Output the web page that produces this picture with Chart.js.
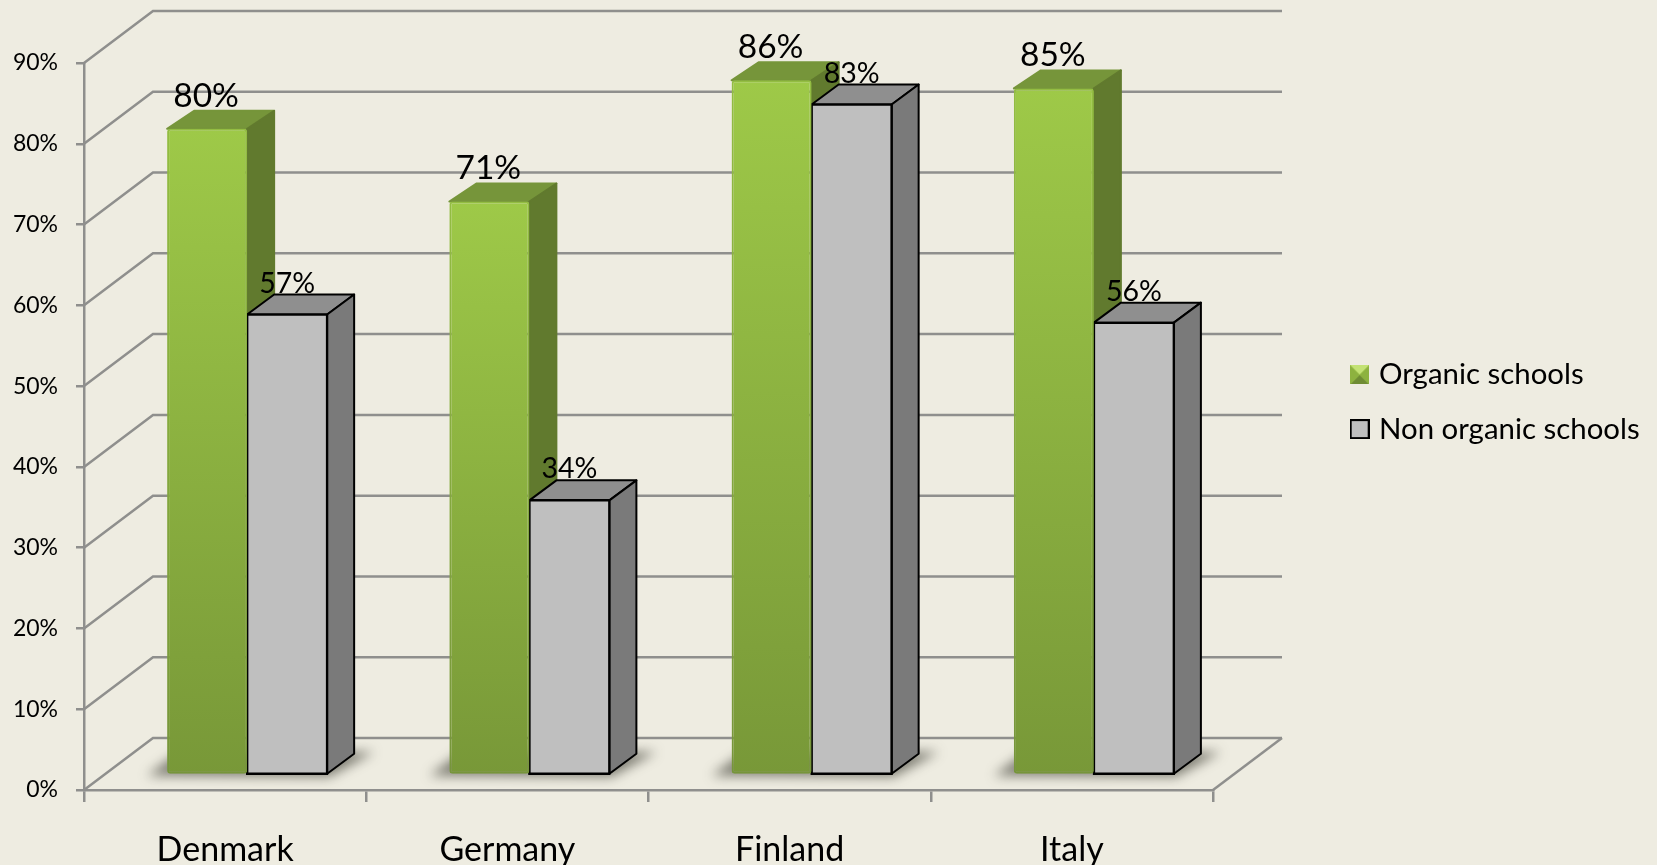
<!DOCTYPE html>
<html lang="en">

<head>
  <meta charset="UTF-8" />
  <title>Organic schools</title>
  <script src="https://cdn.jsdelivr.net/npm/chart.js"></script>
  <style>
    html, body { margin: 0; padding: 0; background: #eeece1; overflow: hidden; }
    canvas { display: block; }
  </style>
</head>

<body>
  <canvas id="grafico" width="1657" height="865"></canvas>

  <script>
    const paises = ['Denmark', 'Germany', 'Finland', 'Italy'];
    const organic = [80, 71, 86, 85];
    const nonOrganic = [57, 34, 83, 56];
    const nomes = ['Organic schools', 'Non organic schools'];

    const FONTE = 'Lato';
    const COR_GRADE = '#8f8f8d';

    // the wall/floor of the fake 3D box
    const FUNDO_X = 69, FUNDO_Y = 52;
    // bars stand a bit inside the floor
    const RECUO_X = 22, RECUO_Y = 15;
    const PROF_X = 27, PROF_Y = 20;

    function gradienteVerde(context, topo, fim) {
      const chart = context.chart;
      if (!chart.chartArea || context.raw === undefined) return topo;
      const y = chart.scales.y;
      const g = chart.ctx.createLinearGradient(0, y.getPixelForValue(context.raw), 0, y.getPixelForValue(0));
      g.addColorStop(0, topo);
      g.addColorStop(1, fim);
      return g;
    }

    const corVerde = context => gradienteVerde(context, '#9ec948', '#789838');
    const bordaVerde = context => gradienteVerde(context, '#93bd42', '#76953a');

    function iconeVerde() {
      const c = document.createElement('canvas');
      c.width = 19; c.height = 19;
      const x = c.getContext('2d');
      x.fillStyle = '#a4d04c'; x.fillRect(0, 0, 19, 19);
      x.fillStyle = '#c3e274';
      x.beginPath(); x.moveTo(0, 0); x.lineTo(19, 0); x.lineTo(9.5, 9.5); x.fill();
      x.fillStyle = '#6f8c34';
      x.beginPath(); x.moveTo(0, 19); x.lineTo(19, 19); x.lineTo(9.5, 9.5); x.fill();
      x.fillStyle = '#8db23f';
      x.beginPath(); x.moveTo(0, 0); x.lineTo(0, 19); x.lineTo(9.5, 9.5); x.fill();
      x.beginPath(); x.moveTo(19, 0); x.lineTo(19, 19); x.lineTo(9.5, 9.5); x.fill();
      return c;
    }

    function iconeCinza() {
      const c = document.createElement('canvas');
      c.width = 20; c.height = 20;
      const x = c.getContext('2d');
      x.fillStyle = '#bfbfbf'; x.fillRect(1, 1, 18, 18);
      x.strokeStyle = '#000'; x.lineWidth = 2; x.strokeRect(1, 1, 18, 18);
      return c;
    }

    const icones = [iconeVerde(), iconeCinza()];

    function face(ctx, pontos, cor, borda) {
      ctx.beginPath();
      pontos.forEach((p, i) => i ? ctx.lineTo(p[0], p[1]) : ctx.moveTo(p[0], p[1]));
      ctx.closePath();
      ctx.fillStyle = cor;
      ctx.fill();
      if (borda) {
        ctx.strokeStyle = borda;
        ctx.lineWidth = 2;
        ctx.lineJoin = 'round';
        ctx.stroke();
      }
    }

    // top and side faces of one series
    function lados(ctx, meta, verde) {
      meta.data.forEach(bar => {
        const esq = bar.x - bar.width / 2;
        const dir = bar.x + bar.width / 2;
        const dy = verde ? PROF_Y - 2 : PROF_Y;
        face(ctx, [[esq, bar.y], [esq + PROF_X, bar.y - dy], [dir + PROF_X, bar.y - dy], [dir, bar.y]],
          verde ? '#76953a' : '#8f8f8f', verde ? '#76953a' : '#000');
        face(ctx, [[dir, bar.y], [dir + PROF_X, bar.y - dy], [dir + PROF_X, bar.base - dy], [dir, bar.base]],
          verde ? '#617a2e' : '#7a7a7a', verde ? '#617a2e' : '#000');
      });
    }

    const caixa3d = {
      id: 'caixa3d',
      afterLayout(chart) {
        // legend does not take room from the chart, it sits right of the box
        const l = chart.legend;
        l.left = 1330; l.right = 1657;
        l.top = 335; l.bottom = 470;
      },
      beforeDatasetsDraw(chart) {
        const ctx = chart.ctx;
        const esc = chart.scales.y;
        const area = chart.chartArea;

        ctx.save();
        ctx.strokeStyle = COR_GRADE;
        ctx.lineWidth = 2.5;
        esc.ticks.forEach(t => {
          const y = esc.getPixelForValue(t.value);
          ctx.beginPath();
          ctx.moveTo(area.left, y);
          ctx.lineTo(area.left + FUNDO_X, y - FUNDO_Y);
          ctx.lineTo(area.right + FUNDO_X, y - FUNDO_Y);
          ctx.stroke();
        });
        const y0 = esc.getPixelForValue(0);
        ctx.beginPath();
        ctx.moveTo(area.right, y0);
        ctx.lineTo(area.right + FUNDO_X, y0 - FUNDO_Y);
        ctx.stroke();
        ctx.restore();

        ctx.save();
        ctx.translate(RECUO_X, -RECUO_Y);

        // soft shadow on the floor
        const m0 = chart.getDatasetMeta(0);
        const m1 = chart.getDatasetMeta(1);
        ctx.save();
        ctx.filter = 'blur(6px)';
        m0.data.forEach((bar, i) => {
          const esq = bar.x - bar.width / 2;
          const dir = m1.data[i].x + m1.data[i].width / 2;
          const base = bar.base;
          face(ctx, [[esq - 20, base + 2], [dir + 2, base + 3], [dir + PROF_X + 20, base - PROF_Y - 2], [esq + 10, base - PROF_Y]], 'rgba(50,50,40,0.6)');
        });
        ctx.restore();

        // green faces first, the grey front has to cover them
        lados(ctx, m0, true);
        lados(ctx, m1, false);
      },
      afterDatasetsDraw(chart) {
        const ctx = chart.ctx;
        ctx.fillStyle = '#000';
        ctx.textAlign = 'center';
        ctx.textBaseline = 'alphabetic';
        [0, 1].forEach(d => {
          const ds = chart.data.datasets[d];
          ctx.font = (d === 0 ? 33.5 : 28.5) + 'px ' + FONTE;
          chart.getDatasetMeta(d).data.forEach((bar, i) => {
            ctx.fillText(ds.data[i] + '%', bar.x - (d === 0 ? 1 : 0), bar.y - 22);
          });
        });
        ctx.restore();
      }
    };

    new Chart(document.getElementById('grafico'), {
      type: 'bar',
      data: {
        labels: paises,
        datasets: [{
          label: nomes[0],
          data: organic,
          backgroundColor: corVerde,
          borderColor: bordaVerde,
          borderWidth: 2,
          borderRadius: 3,
          borderSkipped: false,
          inflateAmount: 0
        }, {
          label: nomes[1],
          data: nonOrganic,
          backgroundColor: '#bfbfbf',
          borderColor: '#000000',
          borderWidth: 2.5,
          borderSkipped: false,
          inflateAmount: 1.25
        }]
      },
      options: {
        responsive: false,
        animation: false,
        layout: { padding: { top: 63, right: 444, bottom: 0, left: 0 } },
        datasets: { bar: { barPercentage: 1, categoryPercentage: 0.567 } },
        scales: {
          x: {
            afterFit: s => { s.height = 75; },
            grid: { drawOnChartArea: false, tickLength: 12, color: COR_GRADE, lineWidth: 2.5 },
            border: { color: COR_GRADE, width: 2.5 },
            ticks: { color: '#000', font: { family: FONTE, size: 34 }, padding: 28, maxRotation: 0 }
          },
          y: {
            min: 0,
            max: 90,
            afterFit: s => { s.width = 84; },
            grid: { drawOnChartArea: false, tickLength: 8, color: COR_GRADE, lineWidth: 2.5 },
            border: { color: COR_GRADE, width: 2.5 },
            ticks: { stepSize: 10, color: '#000', font: { family: FONTE, size: 23 }, padding: 18, callback: v => v + '%' }
          }
        },
        plugins: {
          tooltip: { enabled: false },
          legend: {
            position: 'chartArea',
            align: 'start',
            labels: {
              color: '#000',
              font: { family: FONTE, size: 29.4 },
              usePointStyle: true,
              boxWidth: 9.3,
              padding: 25,
              generateLabels: chart => chart.data.datasets.map((ds, i) => ({
                text: ds.label,
                pointStyle: icones[i],
                datasetIndex: i,
                fontColor: '#000',
                lineWidth: 0
              }))
            }
          }
        }
      },
      plugins: [caixa3d]
    });
  </script>
</body>

</html>
